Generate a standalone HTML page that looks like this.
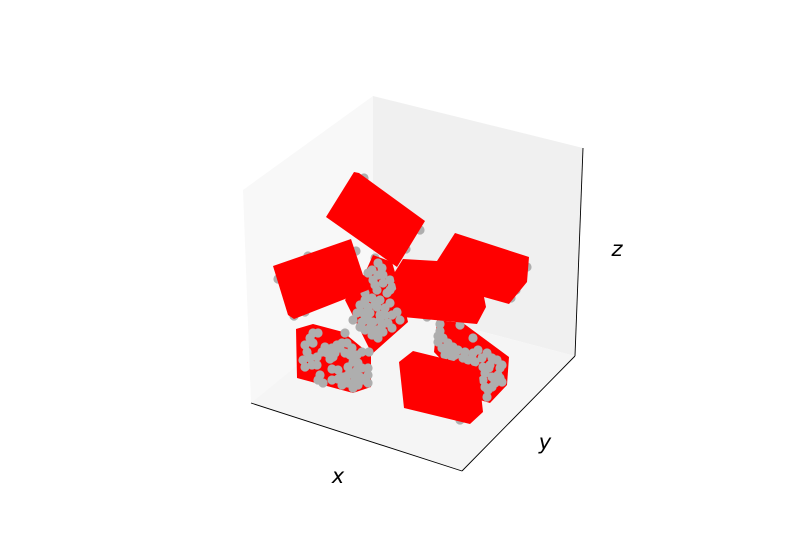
<!DOCTYPE html>
<html>
<head>
<meta charset="utf-8">
<style>
html,body{margin:0;padding:0;background:#fff;width:800px;height:560px;overflow:hidden}
svg{display:block}
.axis-label{font-family:"DejaVu Sans","Liberation Sans",sans-serif;font-style:italic;font-size:21px;fill:#000;text-anchor:middle}
</style>
</head>
<body>
<svg id="chart" xmlns="http://www.w3.org/2000/svg" width="800" height="560" viewBox="0 0 800 560">
  <rect width="800" height="560" fill="#ffffff"/>
  <polygon points="243,190 373,96 373,303 251,403" fill="#f8f8f8"/>
  <polygon points="373,96 583,148 575,356 373,303" fill="#f0f0f0"/>
  <polygon points="251,403 373,303 575,356 462,471" fill="#f5f5f5"/>
  <polyline points="251,403 462,471" fill="none" stroke="#000" stroke-width="0.9"/>
  <polyline points="462,471 575,356" fill="none" stroke="#000" stroke-width="0.9"/>
  <polyline points="575,356 583,148" fill="none" stroke="#000" stroke-width="0.9"/>
  <g id="marks"></g>
  <text class="axis-label" x="338" y="483">x</text>
  <text class="axis-label" x="545" y="449">y</text>
  <text class="axis-label" x="617" y="256">z</text>
</svg>
<script>
// Scene values as [u, v] in projected scene units
var blobCentre = [[173,225],[192,218],[203,180],[208,158],[172,126],[145,180],[165,207]];
var blobLeft = [[96,151],[113,156],[143,148],[171,125],[171,93],[153,87],[97,102]];
var blobRight = [[237,160],[263,157],[309,123],[307,95],[290,77],[280,80],[234,128]];
var prismTop = [[154,308],[159,307],[225,259],[197,213],[126,263]];
var prismLeft = [[73,214],[151,241],[168,190],[94,161],[88,165]];
var prismCentre = [[203,221],[237,219],[284,183],[286,173],[277,156],[203,163],[193,205]];
var prismRight = [[237,219],[255,247],[329,223],[327,198],[309,176],[284,183],[237,180]];
var prismFront = [[213,129],[199,118],[204,72],[270,56],[283,68],[278,113]];

var pointsLeft = [[113,147],[118,147],[110,142],[105,135],[113,137],[107,128],[103,120],[105,113],[112,115],[117,115],[122,128],[117,123],[127,127],[132,132],[137,135],[142,137],[145,147],[147,137],[152,132],[157,125],[162,128],[169,128],[130,121],[140,132],[133,123],[145,127],[153,118],[158,117],[148,113],[132,111],[138,110],[120,105],[123,97],[132,100],[142,95],[143,103],[148,105],[153,107],[157,110],[162,112],[168,112],[168,105],[168,97],[155,100],[160,103],[153,92],[148,97],[158,95],[163,100],[138,101],[125,133],[135,127],[150,125],[118,100],[110,122]];
var pointsCentre = [[178,217],[182,212],[168,207],[178,205],[183,205],[190,200],[183,197],[192,193],[177,190],[187,187],[173,200],[165,180],[172,182],[180,180],[190,177],[160,175],[168,173],[177,173],[185,172],[197,168],[157,167],[153,160],[163,167],[170,167],[180,165],[192,165],[200,160],[162,158],[173,158],[188,157],[165,150],[172,145],[182,155],[192,152],[160,153],[177,150],[175,195],[165,187],[175,175],[165,165],[185,165],[168,160],[180,160],[170,152],[183,148],[178,142],[190,190],[172,210]];
var pointsRight = [[240,156],[240,149],[238,144],[243,142],[242,132],[248,137],[247,130],[253,133],[255,125],[252,123],[265,128],[273,142],[260,155],[263,122],[272,122],[275,118],[278,130],[273,127],[287,127],[292,122],[297,120],[302,115],[283,113],[289,112],[285,107],[283,100],[292,103],[298,105],[302,98],[295,97],[285,93],[288,90],[287,83],[292,93],[282,122],[238,138],[245,125],[258,130],[268,120],[290,115],[300,112],[300,102],[250,128]];
var pointsHidden = [[164,302],[220,250],[206,231],[108,224],[78,201],[156,229],[175,222],[327,213],[316,190],[311,182],[227,163],[94,164],[105,168],[152,181],[260,60]];

var SVG_NS = 'http://www.w3.org/2000/svg';
var marks = document.getElementById('marks');

function axisU(u) { return 200 + u; }
function axisV(v) { return 480 - v; }

function drawShape(values, name) {
  var poly = document.createElementNS(SVG_NS, 'polygon');
  poly.setAttribute('points', values.map(function (p) {
    return axisU(p[0]) + ',' + axisV(p[1]);
  }).join(' '));
  poly.setAttribute('fill', '#ff0000');
  
  
  marks.appendChild(poly);
}

function drawPoints(values, name) {
  values.forEach(function (p) {
    var dot = document.createElementNS(SVG_NS, 'circle');
    dot.setAttribute('cx', axisU(p[0]));
    dot.setAttribute('cy', axisV(p[1]));
    dot.setAttribute('r', 4.6);
    dot.setAttribute('fill', '#aeaeae');
    
    
    marks.appendChild(dot);
  });
}

drawPoints(pointsHidden, 'scatter-point-hidden');
drawShape(blobCentre, 'red-blob-centre');
drawShape(blobLeft, 'red-blob-left');
drawShape(blobRight, 'red-blob-right');
drawPoints(pointsLeft, 'scatter-point-left');
drawPoints(pointsCentre, 'scatter-point-centre');
drawPoints(pointsRight, 'scatter-point-right');
drawShape(prismTop, 'red-prism-top');
drawShape(prismRight, 'red-prism-right');
drawShape(prismCentre, 'red-prism-centre');
drawShape(prismLeft, 'red-prism-left');
drawShape(prismFront, 'red-prism-front');
</script>
</body>
</html>
